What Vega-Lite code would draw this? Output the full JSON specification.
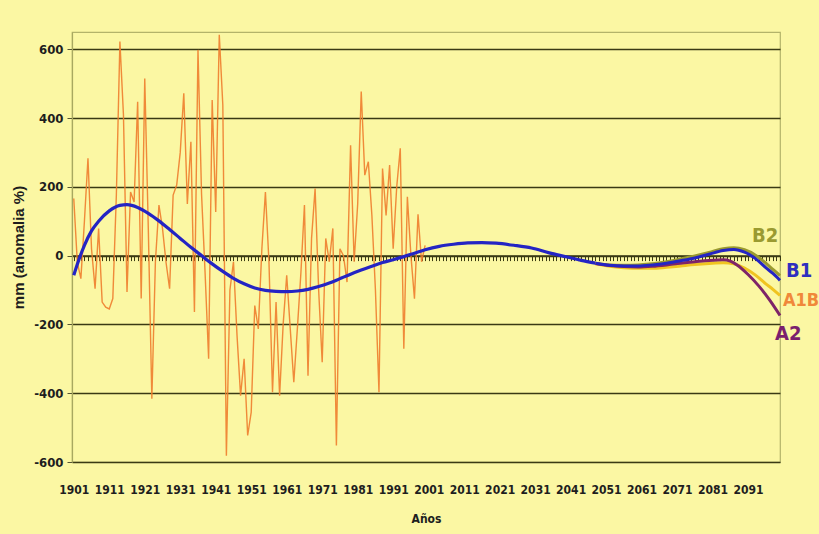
{
  "$schema": "https://vega.github.io/schema/vega-lite/v6.json",
  "autosize": {"type": "none"},
  "width": 708,
  "height": 430,
  "padding": {"left": 72, "top": 32, "right": 39, "bottom": 72},
  "background": "#fbf7a3",
  "config": {
    "view": {"stroke": "#b3b36a", "strokeWidth": 1.2, "fill": "#fbf7a3"},
    "font": "Liberation Sans Narrow, DejaVu Sans Condensed, Arial Narrow, sans-serif"
  },
  "datasets": {
    "obs": [
      {"year":1901,"value":166},{"year":1902,"value":-20},{"year":1903,"value":-67},{"year":1904,"value":100},{"year":1905,"value":283},
      {"year":1906,"value":20},{"year":1907,"value":-96},{"year":1908,"value":79},{"year":1909,"value":-135},{"year":1910,"value":-150},
      {"year":1911,"value":-155},{"year":1912,"value":-125},{"year":1913,"value":176},{"year":1914,"value":622},{"year":1915,"value":409},
      {"year":1916,"value":-106},{"year":1917,"value":185},{"year":1918,"value":156},{"year":1919,"value":447},{"year":1920,"value":-125},
      {"year":1921,"value":515},{"year":1922,"value":79},{"year":1923,"value":-416},{"year":1924,"value":-18},{"year":1925,"value":147},
      {"year":1926,"value":79},{"year":1927,"value":-20},{"year":1928,"value":-96},{"year":1929,"value":176},{"year":1930,"value":205},
      {"year":1931,"value":300},{"year":1932,"value":472},{"year":1933,"value":150},{"year":1934,"value":331},{"year":1935,"value":-164},
      {"year":1936,"value":598},{"year":1937,"value":180},{"year":1938,"value":-50},{"year":1939,"value":-300},{"year":1940,"value":452},
      {"year":1941,"value":127},{"year":1942,"value":642},{"year":1943,"value":437},{"year":1944,"value":-582},{"year":1945,"value":-100},
      {"year":1946,"value":-18},{"year":1947,"value":-232},{"year":1948,"value":-407},{"year":1949,"value":-300},{"year":1950,"value":-523},
      {"year":1951,"value":-455},{"year":1952,"value":-145},{"year":1953,"value":-213},{"year":1954,"value":20},{"year":1955,"value":185},
      {"year":1956,"value":-18},{"year":1957,"value":-397},{"year":1958,"value":-135},{"year":1959,"value":-407},{"year":1960,"value":-200},
      {"year":1961,"value":-57},{"year":1962,"value":-213},{"year":1963,"value":-368},{"year":1964,"value":-213},{"year":1965,"value":-50},
      {"year":1966,"value":147},{"year":1967,"value":-349},{"year":1968,"value":50},{"year":1969,"value":195},{"year":1970,"value":-100},
      {"year":1971,"value":-310},{"year":1972,"value":50},{"year":1973,"value":-18},{"year":1974,"value":79},{"year":1975,"value":-552},
      {"year":1976,"value":20},{"year":1977,"value":0},{"year":1978,"value":-77},{"year":1979,"value":321},{"year":1980,"value":-18},
      {"year":1981,"value":150},{"year":1982,"value":477},{"year":1983,"value":234},{"year":1984,"value":273},{"year":1985,"value":117},
      {"year":1986,"value":-100},{"year":1987,"value":-397},{"year":1988,"value":253},{"year":1989,"value":117},{"year":1990,"value":263},
      {"year":1991,"value":20},{"year":1992,"value":200},{"year":1993,"value":312},{"year":1994,"value":-271},{"year":1995,"value":171},
      {"year":1996,"value":0},{"year":1997,"value":-125},{"year":1998,"value":120},{"year":1999,"value":-18},{"year":2000,"value":30}
    ],
    "trend": [
      {"year":1901,"value":-57},{"year":1902,"value":-25},{"year":1904,"value":30},{"year":1906,"value":72},{"year":1908,"value":100},
      {"year":1911,"value":130},{"year":1914,"value":146},{"year":1916,"value":148},{"year":1919,"value":140},{"year":1922,"value":123},
      {"year":1925,"value":101},{"year":1928,"value":76},{"year":1931,"value":50},{"year":1934,"value":24},{"year":1937,"value":0},
      {"year":1940,"value":-24},{"year":1943,"value":-46},{"year":1946,"value":-66},{"year":1949,"value":-82},{"year":1952,"value":-94},
      {"year":1955,"value":-101},{"year":1958,"value":-104},{"year":1961,"value":-105},{"year":1964,"value":-103},{"year":1967,"value":-98},
      {"year":1970,"value":-90},{"year":1973,"value":-80},{"year":1976,"value":-67},{"year":1979,"value":-54},{"year":1982,"value":-42},
      {"year":1985,"value":-31},{"year":1988,"value":-20},{"year":1991,"value":-12},{"year":1994,"value":-3},{"year":1997,"value":7},
      {"year":2000,"value":17},{"year":2004,"value":27},{"year":2008,"value":33},{"year":2012,"value":37},{"year":2016,"value":38},
      {"year":2020,"value":36},{"year":2025,"value":30},{"year":2030,"value":22},{"year":2035,"value":8},{"year":2040,"value":-4},
      {"year":2044,"value":-14},{"year":2048,"value":-22}
    ],
    "scen": [
      {"series":"B2","year":2048,"value":-22},{"series":"B2","year":2052,"value":-27},{"series":"B2","year":2056,"value":-28},{"series":"B2","year":2060,"value":-27},
      {"series":"B2","year":2064,"value":-24},{"series":"B2","year":2068,"value":-18},{"series":"B2","year":2072,"value":-10},{"series":"B2","year":2076,"value":-1},
      {"series":"B2","year":2080,"value":9},{"series":"B2","year":2084,"value":20},{"series":"B2","year":2087,"value":23},{"series":"B2","year":2090,"value":17},
      {"series":"B2","year":2093,"value":2},{"series":"B2","year":2096,"value":-22},{"series":"B2","year":2098,"value":-40},{"series":"B2","year":2100,"value":-58},
      {"series":"A1B","year":2048,"value":-24},{"series":"A1B","year":2052,"value":-31},{"series":"A1B","year":2056,"value":-35},{"series":"A1B","year":2060,"value":-37},
      {"series":"A1B","year":2064,"value":-37},{"series":"A1B","year":2068,"value":-34},{"series":"A1B","year":2072,"value":-30},{"series":"A1B","year":2076,"value":-26},
      {"series":"A1B","year":2080,"value":-23},{"series":"A1B","year":2084,"value":-21},{"series":"A1B","year":2087,"value":-24},{"series":"A1B","year":2090,"value":-36},
      {"series":"A1B","year":2093,"value":-56},{"series":"A1B","year":2096,"value":-82},{"series":"A1B","year":2098,"value":-98},{"series":"A1B","year":2100,"value":-116},
      {"series":"A2","year":2048,"value":-23},{"series":"A2","year":2052,"value":-29},{"series":"A2","year":2056,"value":-32},{"series":"A2","year":2060,"value":-33},
      {"series":"A2","year":2064,"value":-31},{"series":"A2","year":2068,"value":-27},{"series":"A2","year":2072,"value":-22},{"series":"A2","year":2076,"value":-18},
      {"series":"A2","year":2080,"value":-14},{"series":"A2","year":2084,"value":-12},{"series":"A2","year":2086,"value":-16},{"series":"A2","year":2088,"value":-28},
      {"series":"A2","year":2091,"value":-55},{"series":"A2","year":2094,"value":-88},{"series":"A2","year":2097,"value":-128},{"series":"A2","year":2100,"value":-174},
      {"series":"B1","year":2048,"value":-22},{"series":"B1","year":2052,"value":-28},{"series":"B1","year":2056,"value":-30},{"series":"B1","year":2060,"value":-30},
      {"series":"B1","year":2064,"value":-27},{"series":"B1","year":2068,"value":-22},{"series":"B1","year":2072,"value":-15},{"series":"B1","year":2076,"value":-7},
      {"series":"B1","year":2080,"value":4},{"series":"B1","year":2084,"value":15},{"series":"B1","year":2087,"value":18},{"series":"B1","year":2090,"value":10},
      {"series":"B1","year":2093,"value":-8},{"series":"B1","year":2096,"value":-35},{"series":"B1","year":2098,"value":-52},{"series":"B1","year":2100,"value":-72}
    ]
  },
  "encoding": {
    "y": {
      "field": "value", "type": "quantitative",
      "scale": {"domain": [-600, 650], "nice": false, "zero": false},
      "axis": {
        "title": "mm (anomalia %)",
        "titleFont": "Liberation Sans, Arial, sans-serif",
        "titleFontSize": 15, "titleFontWeight": "bold", "titleColor": "#1e1e1e", "titlePadding": 7,
        "values": [-600, -400, -200, 0, 200, 400, 600],
        "labelExpr": "datum.value < 0 ? '-' + abs(datum.value) : '' + datum.value",
        "labelFontSize": 13, "labelFontWeight": "bold", "labelColor": "#1e1e1e", "labelPadding": 4,
        "tickSize": 5, "tickColor": "#555533",
        "domainColor": "#a8a860", "domainWidth": 1.2,
        "grid": true, "gridColor": "#3a3a14", "gridWidth": 1.4, "gridOpacity": 1
      }
    }
  },
  "resolve": {"axis": {"x": "independent"}},
  "layer": [
    {
      "data": {"name": "obs"},
      "mark": {"type": "line", "color": "#ee7d2e", "strokeWidth": 1.4, "opacity": 0.9},
      "encoding": {
        "x": {
          "field": "year", "type": "quantitative",
          "scale": {"domain": [1900.5, 2100], "nice": false, "zero": false},
          "axis": {
            "title": "Años", "orient": "bottom",
            "titleFontSize": 12, "titleFontWeight": "bold", "titleColor": "#1e1e1e", "titlePadding": 18,
            "values": [1901, 1911, 1921, 1931, 1941, 1951, 1961, 1971, 1981, 1991, 2001, 2011, 2021, 2031, 2041, 2051, 2061, 2071, 2081, 2091],
            "format": "d", "labelOverlap": false, "labelFontSize": 12, "labelFontWeight": "bold", "labelColor": "#1e1e1e",
            "labelPadding": 22, "ticks": false, "domain": false, "grid": false
          }
        }
      }
    },
    {
      "data": {"name": "trend"},
      "mark": {"type": "line", "color": "#2424c4", "strokeWidth": 3.2, "interpolate": "monotone"},
      "encoding": {
        "x": {
          "field": "year", "type": "quantitative",
          "scale": {"domain": [1900.5, 2100], "nice": false, "zero": false},
          "axis": {
            "title": null, "orient": "bottom", "labels": false, "grid": false,
            "offset": {"expr": "scale('y', 0) - height"},
            "tickCount": 200, "tickSize": 5, "tickColor": "#3a3a14", "tickWidth": 1,
            "domain": true, "domainColor": "#3a3a14", "domainWidth": 1.5
          }
        }
      }
    },
    {
      "data": {"name": "scen"},
      "mark": {"type": "line", "strokeWidth": 3, "interpolate": "monotone"},
      "encoding": {
        "x": {"field": "year", "type": "quantitative", "scale": {"domain": [1900.5, 2100], "nice": false, "zero": false}, "axis": null},
        "color": {
          "field": "series", "type": "nominal",
          "scale": {"domain": ["B2", "A1B", "A2", "B1"], "range": ["#9a9a30", "#f0c420", "#7e2468", "#2424c4"]},
          "legend": null
        },
        "order": {"field": "series", "sort": "ascending"}
      }
    },
    {
      "data": {"name": "scen"},
      "transform": [{"filter": "datum.year == 2100 && datum.series == 'B2'"}],
      "mark": {"type": "text", "align": "left", "baseline": "middle", "dx": -28, "dy": -40, "fontSize": 20, "fontWeight": "bold", "color": "#9a9a30"},
      "encoding": {
        "x": {"field": "year", "type": "quantitative", "scale": {"domain": [1900.5, 2100], "nice": false, "zero": false}, "axis": null},
        "text": {"field": "series"}
      }
    },
    {
      "data": {"name": "scen"},
      "transform": [{"filter": "datum.year == 2100 && datum.series == 'B1'"}],
      "mark": {"type": "text", "align": "left", "baseline": "middle", "dx": 6, "dy": -9, "fontSize": 20, "fontWeight": "bold", "color": "#2f2fbf"},
      "encoding": {
        "x": {"field": "year", "type": "quantitative", "scale": {"domain": [1900.5, 2100], "nice": false, "zero": false}, "axis": null},
        "text": {"field": "series"}
      }
    },
    {
      "data": {"name": "scen"},
      "transform": [{"filter": "datum.year == 2100 && datum.series == 'A1B'"}],
      "mark": {"type": "text", "align": "left", "baseline": "middle", "dx": 3, "dy": 5, "fontSize": 18, "fontWeight": "bold", "color": "#f0883a"},
      "encoding": {
        "x": {"field": "year", "type": "quantitative", "scale": {"domain": [1900.5, 2100], "nice": false, "zero": false}, "axis": null},
        "text": {"field": "series"}
      }
    },
    {
      "data": {"name": "scen"},
      "transform": [{"filter": "datum.year == 2100 && datum.series == 'A2'"}],
      "mark": {"type": "text", "align": "left", "baseline": "middle", "dx": -5, "dy": 19, "fontSize": 20, "fontWeight": "bold", "color": "#7a1f6e"},
      "encoding": {
        "x": {"field": "year", "type": "quantitative", "scale": {"domain": [1900.5, 2100], "nice": false, "zero": false}, "axis": null},
        "text": {"field": "series"}
      }
    }
  ]
}
